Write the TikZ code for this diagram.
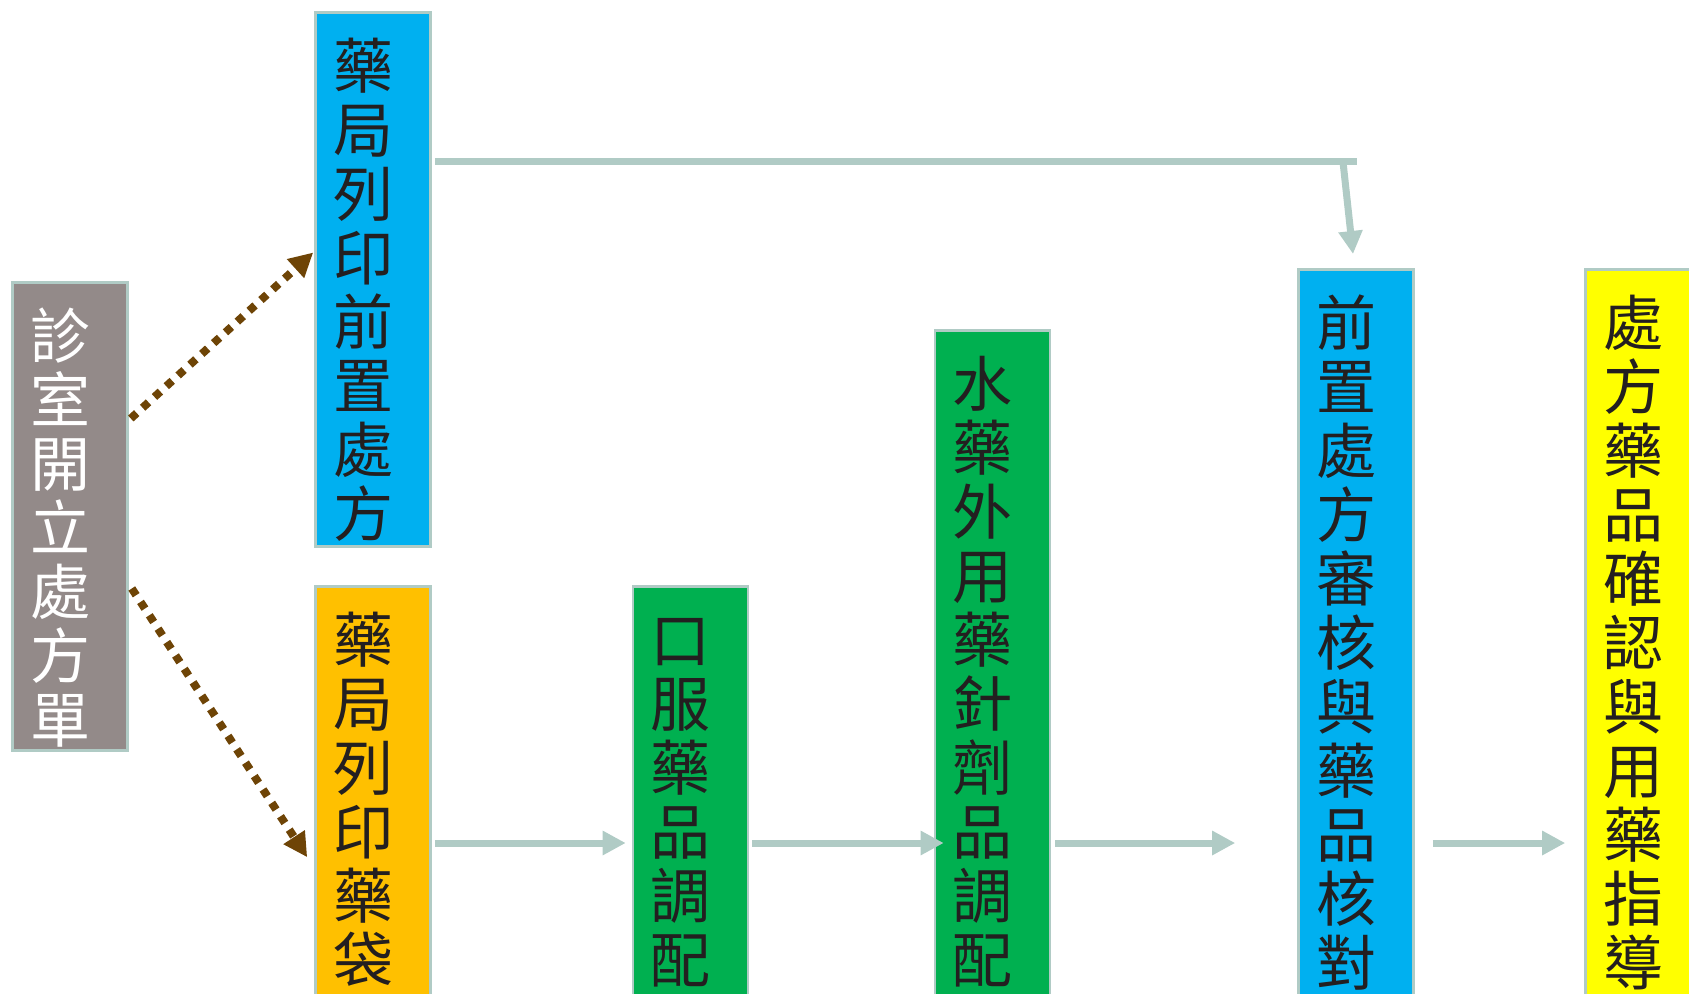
\documentclass[tikz,border=0pt]{standalone}
\usepackage{fontspec}
\newfontfamily\cjk{Noto Sans CJK TC}
\usetikzlibrary{calc,arrows.meta}
\definecolor{edgeteal}{RGB}{176,203,197}
\definecolor{slipgray}{RGB}{147,138,137}
\definecolor{printblue}{RGB}{0,176,240}
\definecolor{bagorange}{RGB}{255,192,0}
\definecolor{mixgreen}{RGB}{0,176,80}
\definecolor{guideyellow}{RGB}{255,255,0}
\definecolor{dotbrown}{RGB}{110,68,6}
\definecolor{inkdark}{RGB}{35,31,32}
\def\stagetext#1#2{\parbox[c][#1][t]{40pt}{\rule{0pt}{38pt}#2}}
\tikzset{
	stage/.style={draw=edgeteal, line width=1.3pt, fill=#1, anchor=north, inner xsep=8.75pt, inner ysep=0pt, text=inkdark, font=\cjk\fontsize{30pt}{32pt}\selectfont},
	flow/.style={draw=edgeteal, line width=3.5pt, -{Triangle[length=11.5pt,width=11.5pt]}},
	dotflow/.style={draw=dotbrown, line width=4pt, dash pattern=on 4pt off 4pt, -{Triangle[length=12pt,width=12pt]}}
}

\begin{document}
\begin{tikzpicture}[x=0.5pt,y=-0.5pt]
			%%%%% START %%%%%
			
			\useasboundingbox (0,0) rectangle (1689,994);
			\clip (0,0) rectangle (1689,994);
			
			\node[stage=slipgray, text=white] (clinic) at (70,281) {\stagetext{234.2pt}{診\\室\\開\\立\\處\\方\\單}};
			
			\node[stage=printblue] (prep) at (373,11) {\stagetext{267.2pt}{藥\\局\\列\\印\\前\\置\\處\\方}};
			\node[stage=bagorange] (bagprint) at (373,585) {\stagetext{216.9pt}{藥\\局\\列\\印\\藥\\袋}};
			
			\node[stage=mixgreen] (oral) at (690.5,585) {\stagetext{216.9pt}{口\\服\\藥\\品\\調\\配}};
			\node[stage=mixgreen] (liquid) at (992.5,329) {\stagetext{344.9pt}{水\\藥\\外\\用\\藥\\針\\劑\\品\\調\\配}};
			
			\node[stage=printblue] (review) at (1356,268) {\stagetext{375.4pt}{前\\置\\處\\方\\審\\核\\與\\藥\\品\\核\\對}};
			\node[stage=guideyellow] (guide) at (1643,268) {\stagetext{375.4pt}{處\\方\\藥\\品\\確\\認\\與\\用\\藥\\指\\導}};
			
			\draw[dotflow] ($(clinic.east)+(2,-98)$) -- ($(prep.west)+(-1,-27)$);
			\draw[dotflow] ($(clinic.east)+(3,72)$) -- ($(bagprint.west)+(-7,54)$);
			
			\coordinate (corner) at (1357,162);
			\coordinate (kink) at (1343,162);
			\draw[draw=edgeteal, line width=3.5pt] ($(prep.east |- corner)+(3,0)$) -- (corner);
			\draw[flow] (kink) -- ($(review.north)+(-3,-14)$);
			
			\coordinate (lane) at (0,843);
			\draw[flow] ($(bagprint.east |- lane)+(3,0)$) -- ($(oral.west |- lane)+(-6,0)$);
			\draw[flow] ($(oral.east |- lane)+(3,0)$) -- ($(liquid.west |- lane)+(10,0)$);
			\draw[flow] ($(liquid.east |- lane)+(4,0)$) -- ($(review.west |- lane)+(-62,0)$);
			\draw[flow] ($(review.east |- lane)+(18,0)$) -- ($(guide.west |- lane)+(-19,0)$);
			
			%%%%% END %%%%%
\end{tikzpicture}
\end{document}
